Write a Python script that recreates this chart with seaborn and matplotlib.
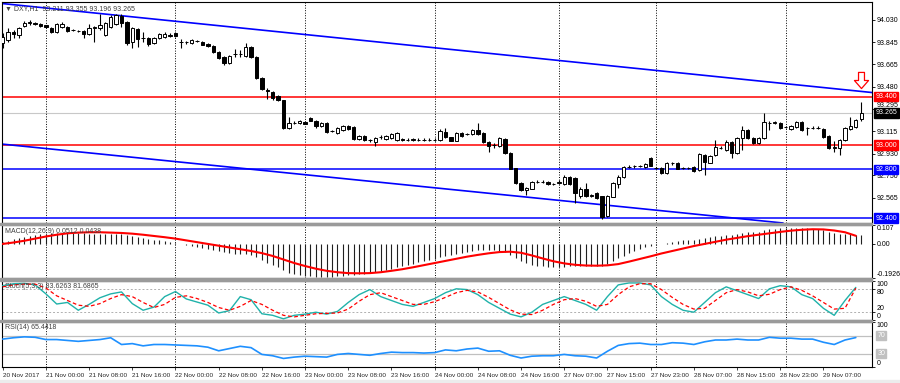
import numpy as np
import pandas as pd
import seaborn as sns
import matplotlib
matplotlib.use("Agg")
from matplotlib import pyplot as plt
from matplotlib import font_manager
from matplotlib.path import Path
from matplotlib.patches import Rectangle
from matplotlib.transforms import blended_transform_factory

# DXY H1 candles, index 0 = 20 Nov 2017 16:00
o = [93.840, 93.865, 93.931, 93.907, 93.981, 94.005, 94.005, 93.997, 93.985, 93.964,
     93.931, 93.972, 93.972, 93.945, 93.943, 93.940, 93.915, 93.965, 93.964, 93.907,
     93.972, 93.997, 94.063, 94.014, 93.849, 93.956, 93.882, 93.882, 93.841, 93.882,
     93.890, 93.910, 93.923, 93.850, 93.850, 93.841, 93.857, 93.849, 93.832, 93.816,
     93.767, 93.725, 93.676, 93.750, 93.750, 93.734, 93.808, 93.725, 93.553, 93.450,
     93.437, 93.405, 93.372, 93.141, 93.180, 93.182, 93.190, 93.225, 93.198, 93.158,
     93.182, 93.115, 93.100, 93.125, 93.158, 93.150, 93.051, 93.075, 93.042, 93.026,
     93.065, 93.051, 93.059, 93.042, 93.050, 93.045, 93.045, 93.045, 93.045, 93.042,
     93.045, 93.042, 93.108, 93.067, 93.034, 93.100, 93.090, 93.092, 93.125, 93.100,
     93.026, 92.998, 92.993, 93.051, 92.935, 92.810, 92.689, 92.631, 92.640, 92.695,
     92.697, 92.697, 92.680, 92.690, 92.680, 92.738, 92.730, 92.580, 92.640, 92.585,
     92.606, 92.580, 92.420, 92.575, 92.680, 92.738, 92.820, 92.825, 92.830, 92.820,
     92.895, 92.810, 92.812, 92.770, 92.850, 92.853, 92.810, 92.810, 92.820, 92.795,
     92.919, 92.853, 92.919, 92.980, 92.960, 93.026, 92.935, 93.059, 93.125, 93.059,
     93.018, 93.059, 93.185, 93.182, 93.182, 93.148, 93.133, 93.150, 93.190, 93.140,
     93.140, 93.145, 93.133, 93.075, 92.980, 92.977, 93.042, 93.133, 93.150, 93.211]
h = [93.920, 93.964, 93.948, 93.972, 94.022, 94.030, 94.014, 94.005, 93.990, 93.970,
     94.005, 94.010, 93.980, 93.955, 93.950, 93.945, 93.997, 93.980, 94.079, 94.014,
     94.071, 94.080, 94.079, 94.020, 93.972, 93.960, 93.931, 93.890, 93.890, 93.925,
     93.930, 93.920, 93.930, 93.874, 93.860, 93.875, 93.865, 93.855, 93.840, 93.820,
     93.775, 93.730, 93.740, 93.790, 93.785, 93.841, 93.815, 93.730, 93.560, 93.470,
     93.445, 93.410, 93.375, 93.230, 93.200, 93.210, 93.195, 93.230, 93.205, 93.190,
     93.190, 93.125, 93.150, 93.165, 93.165, 93.155, 93.080, 93.080, 93.050, 93.065,
     93.080, 93.085, 93.100, 93.110, 93.060, 93.055, 93.060, 93.055, 93.055, 93.055,
     93.055, 93.130, 93.140, 93.070, 93.110, 93.105, 93.100, 93.130, 93.182, 93.105,
     93.030, 93.020, 93.065, 93.060, 92.940, 92.815, 92.700, 92.655, 92.705, 92.710,
     92.710, 92.705, 92.690, 92.710, 92.750, 92.745, 92.735, 92.655, 92.690, 92.600,
     92.615, 92.585, 92.590, 92.700, 92.755, 92.830, 92.835, 92.840, 92.840, 92.850,
     92.900, 92.820, 92.820, 92.860, 92.865, 92.860, 92.820, 92.820, 92.825, 92.935,
     92.930, 92.920, 93.042, 92.990, 93.045, 93.035, 93.065, 93.158, 93.130, 93.065,
     93.065, 93.265, 93.200, 93.200, 93.190, 93.160, 93.165, 93.200, 93.200, 93.150,
     93.155, 93.155, 93.140, 93.080, 93.030, 93.050, 93.150, 93.230, 93.215, 93.355]
l = [93.800, 93.849, 93.882, 93.882, 93.972, 93.989, 93.989, 93.972, 93.965, 93.920,
     93.923, 93.965, 93.930, 93.940, 93.935, 93.882, 93.907, 93.849, 93.948, 93.898,
     93.964, 93.990, 93.972, 93.824, 93.800, 93.808, 93.849, 93.816, 93.835, 93.875,
     93.885, 93.890, 93.890, 93.800, 93.835, 93.835, 93.850, 93.820, 93.810, 93.760,
     93.710, 93.660, 93.670, 93.725, 93.725, 93.725, 93.720, 93.545, 93.455, 93.380,
     93.375, 93.365, 93.135, 93.135, 93.170, 93.175, 93.170, 93.195, 93.140, 93.150,
     93.100, 93.105, 93.095, 93.120, 93.125, 93.045, 93.045, 93.035, 93.025, 92.993,
     93.050, 93.045, 93.050, 93.035, 93.035, 93.035, 93.035, 93.035, 93.035, 93.035,
     93.030, 93.035, 93.060, 93.030, 93.030, 93.070, 93.080, 93.085, 93.085, 93.020,
     92.944, 92.980, 92.985, 92.930, 92.800, 92.680, 92.625, 92.590, 92.635, 92.685,
     92.685, 92.675, 92.670, 92.680, 92.670, 92.675, 92.524, 92.565, 92.575, 92.575,
     92.560, 92.395, 92.410, 92.570, 92.650, 92.730, 92.810, 92.815, 92.820, 92.815,
     92.825, 92.800, 92.765, 92.765, 92.840, 92.800, 92.800, 92.800, 92.780, 92.790,
     92.754, 92.850, 92.910, 92.970, 92.955, 92.895, 92.930, 92.960, 93.050, 93.010,
     93.010, 93.050, 93.125, 93.175, 93.135, 93.140, 93.125, 93.145, 93.120, 93.085,
     93.130, 93.130, 93.060, 92.970, 92.940, 92.920, 93.035, 93.125, 93.145, 93.196]
c = [93.890, 93.931, 93.915, 93.964, 94.005, 94.014, 93.997, 93.981, 93.975, 93.931,
     93.997, 93.997, 93.940, 93.948, 93.940, 93.915, 93.964, 93.972, 93.989, 94.005,
     94.055, 94.071, 94.005, 93.841, 93.964, 93.874, 93.878, 93.832, 93.882, 93.915,
     93.915, 93.900, 93.898, 93.849, 93.845, 93.865, 93.857, 93.824, 93.816, 93.767,
     93.717, 93.676, 93.734, 93.752, 93.748, 93.808, 93.725, 93.553, 93.462, 93.446,
     93.388, 93.372, 93.141, 93.182, 93.182, 93.198, 93.174, 93.200, 93.158, 93.182,
     93.108, 93.117, 93.141, 93.158, 93.133, 93.051, 93.075, 93.042, 93.045, 93.059,
     93.067, 93.075, 93.092, 93.100, 93.045, 93.042, 93.047, 93.042, 93.042, 93.045,
     93.042, 93.117, 93.067, 93.034, 93.100, 93.075, 93.092, 93.125, 93.092, 93.026,
     92.993, 93.001, 93.059, 92.935, 92.804, 92.689, 92.631, 92.647, 92.697, 92.697,
     92.695, 92.680, 92.682, 92.697, 92.738, 92.680, 92.606, 92.640, 92.580, 92.590,
     92.565, 92.410, 92.580, 92.690, 92.738, 92.820, 92.822, 92.830, 92.828, 92.845,
     92.830, 92.812, 92.770, 92.853, 92.853, 92.804, 92.812, 92.808, 92.787, 92.927,
     92.862, 92.910, 92.985, 92.977, 93.026, 92.935, 93.059, 93.125, 93.059, 93.018,
     93.059, 93.190, 93.182, 93.190, 93.141, 93.150, 93.158, 93.190, 93.125, 93.141,
     93.145, 93.141, 93.067, 92.977, 92.985, 93.042, 93.141, 93.158, 93.207, 93.265]

level_prices = [93.400, 93.000, 92.800, 92.400]
level_colors = ["#ff0000", "#ff0000", "#0000ff", "#0000ff"]
channel_top = [(0, 94.165), (159, 93.442)]
channel_bottom = [(0, 93.008), (159, 92.294)]
price_ticks = [94.030, 93.845, 93.665, 93.480, 93.295, 93.115, 92.930, 92.750, 92.565]
last_price = 93.265
arrow_price = 93.536

day_starts = [8, 32, 56, 80, 103, 121, 145]
time_pos = list(range(0, 160, 8))
time_labels = ["20 Nov 2017", "21 Nov 00:00", "21 Nov 08:00", "21 Nov 16:00",
               "22 Nov 00:00", "22 Nov 08:00", "22 Nov 16:00", "23 Nov 00:00",
               "23 Nov 08:00", "23 Nov 16:00", "24 Nov 00:00", "24 Nov 08:00",
               "24 Nov 16:00", "27 Nov 07:00", "27 Nov 15:00", "27 Nov 23:00",
               "28 Nov 07:00", "28 Nov 15:00", "28 Nov 23:00", "29 Nov 07:00"]

# MACD main (histogram), one per candle
macd_main = [0.010, 0.018, 0.026, 0.033, 0.040, 0.046, 0.051, 0.055, 0.058, 0.060,
             0.062, 0.063, 0.063, 0.062, 0.061, 0.060, 0.058, 0.057, 0.056, 0.057,
             0.058, 0.058, 0.056, 0.050, 0.045, 0.040, 0.035, 0.030, 0.025, 0.020,
             0.015, 0.010, 0.005, -0.002, -0.008, -0.013, -0.018, -0.023, -0.028, -0.034,
             -0.041, -0.048, -0.053, -0.056, -0.058, -0.058, -0.062, -0.075, -0.090, -0.105,
             -0.118, -0.130, -0.150, -0.165, -0.172, -0.178, -0.182, -0.184, -0.185, -0.186,
             -0.187, -0.186, -0.184, -0.180, -0.176, -0.175, -0.172, -0.168, -0.163, -0.158,
             -0.152, -0.146, -0.139, -0.132, -0.125, -0.118, -0.111, -0.104, -0.097, -0.090,
             -0.083, -0.076, -0.070, -0.064, -0.058, -0.052, -0.046, -0.040, -0.036, -0.033,
             -0.032, -0.034, -0.038, -0.046, -0.060, -0.078, -0.095, -0.108, -0.117, -0.123,
             -0.127, -0.129, -0.130, -0.130, -0.129, -0.127, -0.127, -0.127, -0.126, -0.125,
             -0.124, -0.122, -0.112, -0.098, -0.082, -0.066, -0.052, -0.040, -0.030, -0.020,
             -0.012, -0.004, 0.002, 0.008, 0.013, 0.017, 0.020, 0.022, 0.024, 0.030,
             0.034, 0.037, 0.042, 0.046, 0.050, 0.052, 0.056, 0.062, 0.066, 0.068,
             0.070, 0.078, 0.083, 0.087, 0.089, 0.090, 0.091, 0.092, 0.091, 0.089,
             0.086, 0.082, 0.076, 0.068, 0.061, 0.058, 0.057, 0.055, 0.053, 0.0512]

# line indicators read every second candle
ind_idx = list(range(0, 160, 2))
macd_signal = [0.000, 0.008, 0.018, 0.030, 0.042, 0.052, 0.060, 0.064, 0.066, 0.066,
               0.064, 0.062, 0.058, 0.052, 0.045, 0.038, 0.030, 0.020, 0.010, 0.000,
               -0.010, -0.020, -0.030, -0.040, -0.052, -0.068, -0.088, -0.108, -0.125, -0.140,
               -0.152, -0.160, -0.165, -0.166, -0.165, -0.160, -0.152, -0.143, -0.132, -0.120,
               -0.108, -0.096, -0.084, -0.072, -0.062, -0.053, -0.046, -0.044, -0.050, -0.065,
               -0.082, -0.098, -0.110, -0.118, -0.122, -0.123, -0.121, -0.114, -0.100, -0.085,
               -0.070, -0.054, -0.040, -0.026, -0.012, 0.000, 0.012, 0.024, 0.034, 0.044,
               0.052, 0.060, 0.068, 0.075, 0.080, 0.083, 0.082, 0.076, 0.066, 0.046]
stoch_main = [88, 93, 94, 90, 67, 41, 45, 25, 40, 57,
              67, 72, 42, 25, 33, 60, 73, 54, 46, 38,
              18, 24, 60, 52, 16, 12, 3, 12, 15, 20,
              15, 22, 45, 65, 78, 60, 50, 40, 35, 45,
              55, 70, 80, 78, 65, 45, 30, 15, 8, 20,
              40, 50, 60, 50, 40, 25, 60, 90, 95, 95,
              90, 60, 40, 25, 20, 45, 70, 85, 75, 65,
              55, 80, 88, 85, 65, 55, 30, 12, 50, 83.6]
stoch_signal = [85, 90, 92, 92, 82, 62, 50, 38, 35, 42,
                55, 65, 60, 45, 32, 40, 58, 62, 55, 45,
                32, 25, 35, 50, 40, 25, 12, 8, 12, 16,
                17, 18, 28, 48, 65, 70, 60, 50, 40, 40,
                47, 58, 70, 76, 72, 58, 42, 26, 15, 14,
                25, 40, 52, 55, 48, 35, 40, 65, 85, 93,
                93, 78, 58, 40, 28, 30, 50, 70, 78, 72,
                62, 66, 78, 85, 76, 62, 45, 28, 30, 81.7]
rsi = [62, 65, 67, 66, 61, 61, 59, 57, 59, 61,
       65, 50, 52, 47, 50, 50, 49, 48, 47, 44,
       36, 41, 46, 43, 28, 25, 19, 22, 24, 23,
       22, 28, 30, 28, 26, 30, 33, 32, 32, 31,
       32, 38, 36, 40, 42, 35, 36, 26, 20, 24,
       25, 25, 28, 25, 24, 20, 35, 48, 52, 53,
       50, 50, 54, 53, 50, 56, 60, 60, 62, 60,
       60, 66, 64, 64, 62, 62, 55, 50, 60, 65.4]

sns.set_style("white")
names = {f.name for f in font_manager.fontManager.ttflist}
base_font = "Liberation Sans" if "Liberation Sans" in names else "DejaVu Sans"
plt.rcParams["font.family"] = [base_font, "DejaVu Sans"]
plt.rcParams["font.size"] = 5

W, H = 900, 383
fig = plt.figure(figsize=(9, 3.83), dpi=100)
fig.patch.set_facecolor("white")


def panel(top, bottom):
    return fig.add_axes([2 / W, 1 - bottom / H, 870 / W, (bottom - top) / H])


ax = panel(2, 223)
ax_macd = panel(225, 278)
ax_st = panel(281, 320)
ax_rsi = panel(322, 367)
axes = [ax, ax_macd, ax_st, ax_rsi]

# grey separators between the panels
for top, bottom in [(223, 225), (278, 281), (320, 322)]:
    fig.patches.append(Rectangle((0, 1 - bottom / H), 872 / W, (bottom - top) / H,
                                 transform=fig.transFigure, color="#9a9a9a", zorder=0))
fig.patches.append(Rectangle((0, 0), 1, 3 / H, transform=fig.transFigure,
                             color="#ececec", zorder=0))

df = pd.DataFrame({"o": o, "h": h, "l": l, "c": c})
df["i"] = np.arange(len(df))
up = df["c"] >= df["o"]

# candles
ax.vlines(df["i"], df["l"], df["h"], color="black", lw=0.8, zorder=3)
ax.bar(df["i"], (df["c"] - df["o"]).abs(), bottom=df[["o", "c"]].min(axis=1),
       width=0.62, color=np.where(up, "white", "black"), edgecolor="black",
       linewidth=0.7, zorder=4)

for lev, col in zip(level_prices, level_colors):
    ax.axhline(lev, color=col, lw=1.1, zorder=2)
ax.axhline(last_price, color="#c8c8c8", lw=0.8, zorder=1)
ax.axline(channel_top[0], channel_top[1], color="#0000ff", lw=1.2, zorder=2)
ax.axline(channel_bottom[0], channel_bottom[1], color="#0000ff", lw=1.2, zorder=2)

# hollow down arrow over the last candle
arrow = Path([(-0.21, 0.57), (0.21, 0.57), (0.21, 0.0), (0.5, 0.0), (0.0, -0.57),
              (-0.5, 0.0), (-0.21, 0.0), (-0.21, 0.57)],
             [Path.MOVETO] + [Path.LINETO] * 6 + [Path.CLOSEPOLY])
ax.scatter([len(c) - 1], [arrow_price], marker=arrow, s=135, facecolor="white",
           edgecolor="#ff0000", linewidth=0.9, zorder=6)

ax.set_ylim(92.359, 94.178)
ax.yaxis.tick_right()
ax.set_yticks(price_ticks)
ax.set_yticklabels([f"{t:.3f}" for t in price_ticks])
# the label hidden behind the last-price box peeks out above it
ax.get_yticklabels()[price_ticks.index(93.295)].set_va("bottom")
ax.text(0.004, 0.985, "\u25bc DXY,H1  93.211 93.355 93.196 93.265", transform=ax.transAxes,
        va="top", ha="left", fontsize=5, color="#404040", zorder=7)

tr = blended_transform_factory(ax.transAxes, ax.transData)
box_labels = list(zip(level_prices, level_colors)) + [(last_price, "black")]
for lev, col in box_labels:
    ax.text(1.004, lev, f"{lev:.3f}", transform=tr, color="white", fontsize=5,
            va="center", ha="left", clip_on=False, zorder=8,
            bbox=dict(boxstyle="square,pad=0.2", fc=col, ec=col))

# MACD
ax_macd.vlines(np.arange(len(macd_main)), 0, macd_main, color="#202020", lw=0.8, zorder=2)
sns.lineplot(x=ind_idx, y=macd_signal, ax=ax_macd, color="#ff0000", lw=1.5, zorder=3)
ax_macd.set_ylim(-0.1926, 0.107)
ax_macd.yaxis.tick_right()
ax_macd.set_yticks([0.107, 0.0, -0.1926])
ax_macd.set_yticklabels(["0.107", "0.00", "-0.1926"])
ax_macd.text(0.004, 0.95, "MACD(12,26,9) 0.0512 0.0438", transform=ax_macd.transAxes,
             va="top", ha="left", fontsize=5, color="#404040")

# Stochastic
ax_st.axhline(80, color="#b0b0b0", lw=0.7, ls=(0, (2, 2)))
ax_st.axhline(20, color="#b0b0b0", lw=0.7, ls=(0, (2, 2)))
sns.lineplot(x=ind_idx, y=stoch_main, ax=ax_st, color="lightseagreen", lw=1.0, zorder=3)
sns.lineplot(x=ind_idx, y=stoch_signal, ax=ax_st, color="#ff0000", lw=0.9,
             linestyle=(0, (3, 2)), zorder=3)
ax_st.set_ylim(0, 100)
ax_st.yaxis.tick_right()
ax_st.set_yticks([100, 80, 20, 0])
ax_st.set_yticklabels(["100", "80", "20", "0"])
ax_st.text(0.004, 0.95, "Stoch(5,3,3) 83.6263 81.6865", transform=ax_st.transAxes,
           va="top", ha="left", fontsize=5, color="#404040")

# RSI
ax_rsi.axhline(70, color="#c0c0c0", lw=0.9)
ax_rsi.axhline(30, color="#c0c0c0", lw=0.9)
sns.lineplot(x=ind_idx, y=rsi, ax=ax_rsi, color="dodgerblue", lw=1.2, zorder=3)
ax_rsi.set_ylim(0, 100)
ax_rsi.yaxis.tick_right()
ax_rsi.set_yticks([100, 0])
ax_rsi.set_yticklabels(["100", "0"])
tr_rsi = blended_transform_factory(ax_rsi.transAxes, ax_rsi.transData)
for lev in [70, 30]:
    ax_rsi.text(1.006, lev, str(lev), transform=tr_rsi, color="white", fontsize=5,
                va="center", ha="left", clip_on=False,
                bbox=dict(boxstyle="square,pad=0.2", fc="#c0c0c0", ec="#c0c0c0"))
ax_rsi.text(0.004, 0.95, "RSI(14) 65.4418", transform=ax_rsi.transAxes,
            va="top", ha="left", fontsize=5, color="#404040")

for a in axes:
    a.set_xlim(-0.13, 161.0)
    for d in day_starts:
        a.axvline(d, color="black", lw=0.7, ls=(0, (1, 1.6)), zorder=1)
    for s in a.spines.values():
        s.set_color("black")
        s.set_linewidth(0.8)
    a.tick_params(axis="y", right=True, length=2, width=0.6, pad=1.5, labelsize=5,
                  colors="black")
    a.set_xlabel("")
    a.set_ylabel("")
    if a is not ax_rsi:
        a.set_xticks([])

# panel end labels sit inside their panel, as in the terminal
for a in [ax_macd, ax_st, ax_rsi]:
    labs = a.get_yticklabels()
    labs[0].set_va("top")
    labs[-1].set_va("bottom")
st_labs = ax_st.get_yticklabels()
st_labs[1].set_va("top")
st_labs[2].set_va("bottom")

ax_rsi.set_xticks(time_pos)
ax_rsi.set_xticklabels(time_labels, ha="left")
ax_rsi.tick_params(axis="x", bottom=True, length=2, width=0.6, pad=2, labelsize=4.6)

fig.savefig("out.png", dpi=100)
